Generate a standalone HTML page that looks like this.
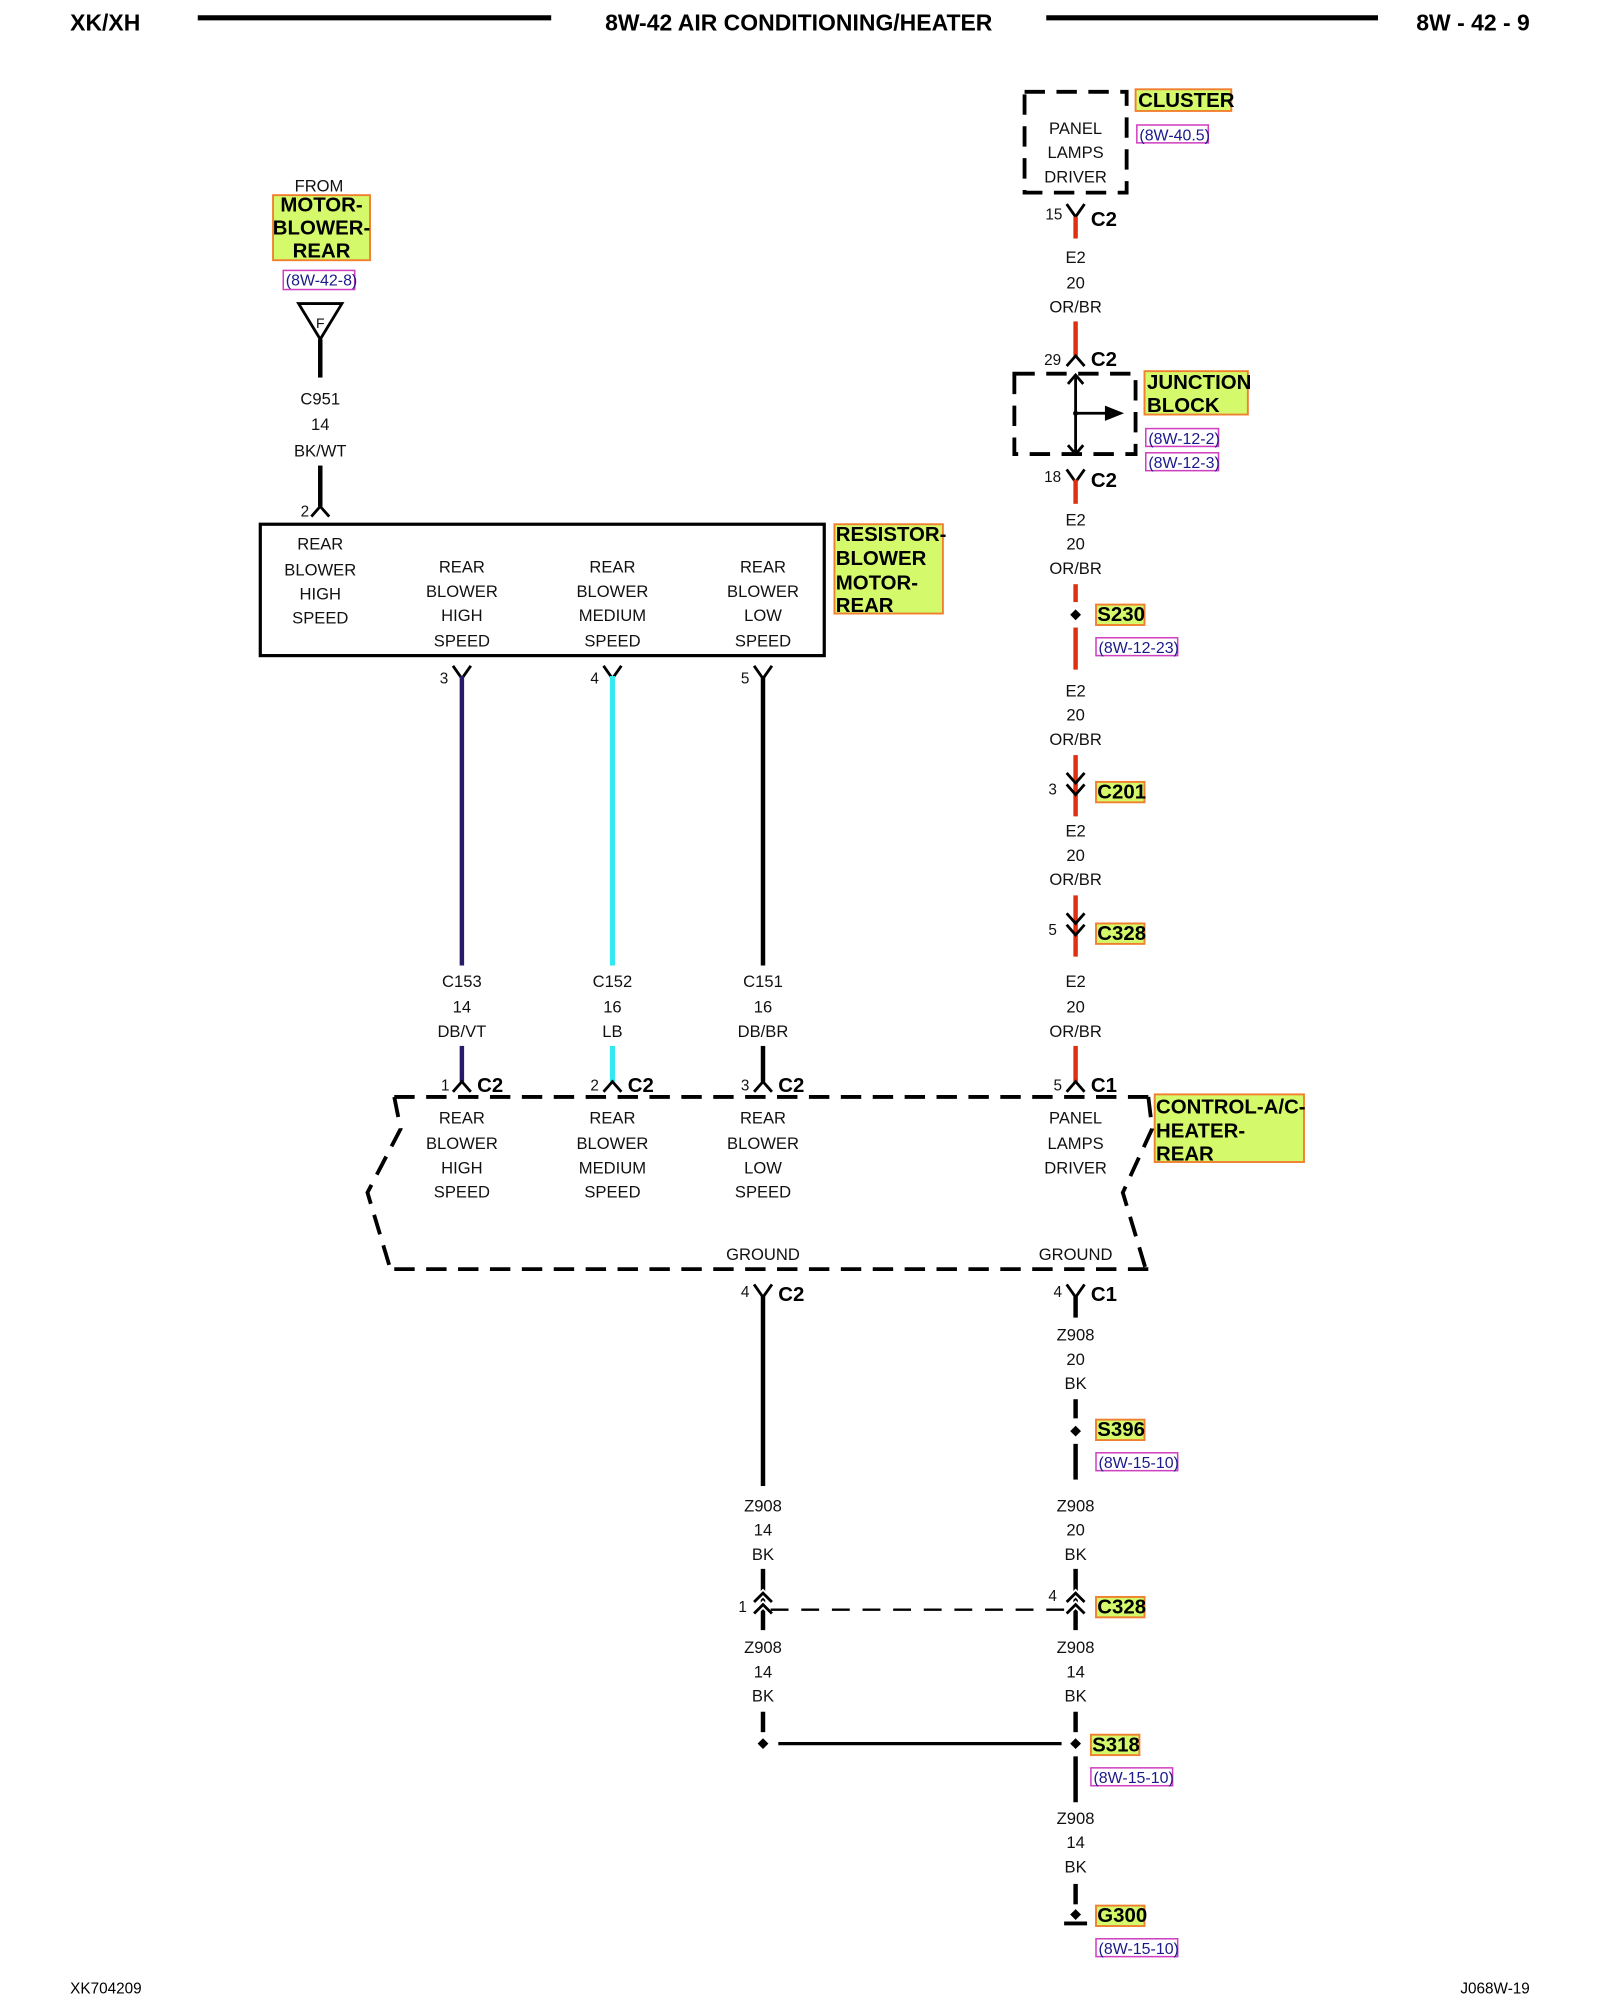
<!DOCTYPE html>
<html><head><meta charset="utf-8"><style>
html,body{margin:0;padding:0;background:#fff;}
svg{display:block;}
text{font-family:"Liberation Sans",sans-serif;}
.t{font-size:13px;text-anchor:middle;fill:#111;}
.b{font-size:16px;font-weight:bold;fill:#000;}
.h{font-size:18px;font-weight:bold;fill:#000;}
.r{font-size:12.5px;fill:#1a1a8a;}
.lab{fill:#d4f96a;stroke:#f08030;stroke-width:1.5;}
.ref{fill:#fff;stroke:#d040c0;stroke-width:1.2;}
.w{stroke:#000;stroke-width:3.5;fill:none;}
.rw{stroke:#e03010;stroke-width:3.5;fill:none;}
.c{stroke:#000;stroke-width:2.2;fill:none;}
.d{stroke:#000;stroke-width:3;fill:none;stroke-dasharray:16 9;}
</style></head><body>
<svg width="1600" height="2000" viewBox="0 0 1254 1568" preserveAspectRatio="none" xmlns="http://www.w3.org/2000/svg">
<!-- header -->
<text x="55" y="24" class="h">XK/XH</text>
<line x1="155" y1="14" x2="432" y2="14" stroke="#000" stroke-width="4"/>
<text x="626" y="24" class="h" text-anchor="middle">8W-42 AIR CONDITIONING/HEATER</text>
<line x1="820" y1="14" x2="1080" y2="14" stroke="#000" stroke-width="4"/>
<text x="1199" y="24" class="h" text-anchor="end">8W - 42 - 9</text>

<!-- cluster -->
<rect x="803" y="72" width="80" height="79" class="d"/>
<text x="843" y="105" class="t">PANEL</text>
<text x="843" y="124" class="t">LAMPS</text>
<text x="843" y="143" class="t">DRIVER</text>
<rect x="890" y="70" width="75" height="17" class="lab"/>
<text x="892" y="84" class="b">CLUSTER</text>
<rect x="891" y="98" width="56" height="14" class="ref"/>
<text x="893" y="110" class="r">(8W-40.5)</text>

<!-- right wire top -->
<path d="M836 160 L843 170 L850 160 M843 170 V187" class="c"/>
<line x1="843" y1="170" x2="843" y2="187" class="rw"/>
<text x="826" y="172" class="t" style="font-size:12px">15</text>
<text x="855" y="177" class="b">C2</text>
<text x="843" y="206" class="t">E2</text><text x="843" y="226" class="t">20</text><text x="843" y="245" class="t">OR/BR</text>
<line x1="843" y1="252" x2="843" y2="280" class="rw"/>
<path d="M836 287 L843 279 L850 287" class="c"/>
<text x="825" y="286" class="t" style="font-size:12px">29</text>
<text x="855" y="287" class="b">C2</text>
<!-- junction block -->
<rect x="795" y="293" width="95" height="63" class="d"/>
<path d="M843 295 V355 M837 301 L843 294 L849 301 M837 349 L843 356 L849 349 M843 324 H868" class="c"/>
<polygon points="866,318 881,324 866,330" fill="#000"/>
<circle cx="843" cy="324" r="2" fill="#000"/>
<rect x="897" y="291" width="81" height="34" class="lab"/>
<text x="899" y="305" class="b">JUNCTION</text>
<text x="899" y="323" class="b">BLOCK</text>
<rect x="898" y="336" width="57" height="14" class="ref"/>
<text x="900" y="348" class="r">(8W-12-2)</text>
<rect x="898" y="355" width="57" height="14" class="ref"/>
<text x="900" y="367" class="r">(8W-12-3)</text>

<path d="M836 368 L843 378 L850 368" class="c"/>
<line x1="843" y1="376" x2="843" y2="395" class="rw"/>
<text x="825" y="378" class="t" style="font-size:12px">18</text>
<text x="855" y="382" class="b">C2</text>
<text x="843" y="412" class="t">E2</text><text x="843" y="431" class="t">20</text><text x="843" y="450" class="t">OR/BR</text>
<line x1="843" y1="458" x2="843" y2="472" class="rw"/>
<rect x="840" y="479" width="6" height="6" transform="rotate(45 843 482)" fill="#000"/>
<line x1="843" y1="492" x2="843" y2="525" class="rw"/>
<rect x="859" y="474" width="38" height="16" class="lab"/>
<text x="860" y="487" class="b">S230</text>
<rect x="859" y="500" width="64" height="14" class="ref"/>
<text x="861" y="512" class="r">(8W-12-23)</text>
<text x="843" y="546" class="t">E2</text><text x="843" y="565" class="t">20</text><text x="843" y="584" class="t">OR/BR</text>
<line x1="843" y1="592" x2="843" y2="640" class="rw"/>
<path d="M836 606 L843 614 L850 606 M836 615 L843 623 L850 615" class="c"/>
<text x="825" y="623" class="t" style="font-size:12px">3</text>
<rect x="859" y="613" width="38" height="16" class="lab"/>
<text x="860" y="626" class="b">C201</text>
<text x="843" y="656" class="t">E2</text><text x="843" y="675" class="t">20</text><text x="843" y="694" class="t">OR/BR</text>
<line x1="843" y1="702" x2="843" y2="750" class="rw"/>
<path d="M836 716 L843 724 L850 716 M836 725 L843 733 L850 725" class="c"/>
<text x="825" y="733" class="t" style="font-size:12px">5</text>
<rect x="859" y="724" width="38" height="16" class="lab"/>
<text x="860" y="737" class="b">C328</text>
<text x="843" y="774" class="t">E2</text><text x="843" y="794" class="t">20</text><text x="843" y="813" class="t">OR/BR</text>
<line x1="843" y1="820" x2="843" y2="849" class="rw"/>
<path d="M836 856 L843 848 L850 856" class="c"/>
<text x="829" y="855" class="t" style="font-size:12px">5</text>
<text x="855" y="856" class="b">C1</text>

<!-- left top -->
<text x="250" y="150" class="t">FROM</text>
<rect x="214" y="153" width="76" height="51" class="lab"/>
<text x="252" y="166" class="b" text-anchor="middle">MOTOR-</text>
<text x="252" y="184" class="b" text-anchor="middle">BLOWER-</text>
<text x="252" y="202" class="b" text-anchor="middle">REAR</text>
<rect x="222" y="212" width="56" height="15" class="ref"/>
<text x="224" y="224" class="r">(8W-42-8)</text>
<path d="M234 238 H268 L251 266 Z" class="c"/>
<text x="251" y="257" class="t" style="font-size:11px">F</text>
<line x1="251" y1="266" x2="251" y2="296" class="w"/>
<text x="251" y="317" class="t">C951</text><text x="251" y="337" class="t">14</text><text x="251" y="358" class="t">BK/WT</text>
<line x1="251" y1="365" x2="251" y2="397" class="w"/>
<path d="M244 405 L251 397 L258 405" class="c"/>
<text x="239" y="405" class="t" style="font-size:12px">2</text>

<!-- resistor box -->
<rect x="204" y="411" width="442" height="103" fill="none" stroke="#000" stroke-width="2.5"/>
<text x="251" y="431" class="t">REAR</text><text x="251" y="451" class="t">BLOWER</text><text x="251" y="470" class="t">HIGH</text><text x="251" y="489" class="t">SPEED</text>
<text x="362" y="449" class="t">REAR</text><text x="362" y="468" class="t">BLOWER</text><text x="362" y="487" class="t">HIGH</text><text x="362" y="507" class="t">SPEED</text>
<text x="480" y="449" class="t">REAR</text><text x="480" y="468" class="t">BLOWER</text><text x="480" y="487" class="t">MEDIUM</text><text x="480" y="507" class="t">SPEED</text>
<text x="598" y="449" class="t">REAR</text><text x="598" y="468" class="t">BLOWER</text><text x="598" y="487" class="t">LOW</text><text x="598" y="507" class="t">SPEED</text>
<rect x="654" y="411" width="85" height="70" class="lab"/>
<text x="655" y="424" class="b">RESISTOR-</text>
<text x="655" y="443" class="b">BLOWER</text>
<text x="655" y="462" class="b">MOTOR-</text>
<text x="655" y="480" class="b">REAR</text>

<!-- three wires -->
<path d="M355 522 L362 532 L369 522" class="c"/>
<path d="M473 522 L480 532 L487 522" class="c"/>
<path d="M591 522 L598 532 L605 522" class="c"/>
<text x="348" y="536" class="t" style="font-size:12px">3</text>
<text x="466" y="536" class="t" style="font-size:12px">4</text>
<text x="584" y="536" class="t" style="font-size:12px">5</text>
<line x1="362" y1="530" x2="362" y2="757" stroke="#2a1a6a" stroke-width="3.5"/>
<line x1="480" y1="530" x2="480" y2="757" stroke="#33e8f2" stroke-width="4"/>
<line x1="598" y1="530" x2="598" y2="757" class="w"/>
<text x="362" y="774" class="t">C153</text><text x="362" y="794" class="t">14</text><text x="362" y="813" class="t">DB/VT</text>
<text x="480" y="774" class="t">C152</text><text x="480" y="794" class="t">16</text><text x="480" y="813" class="t">LB</text>
<text x="598" y="774" class="t">C151</text><text x="598" y="794" class="t">16</text><text x="598" y="813" class="t">DB/BR</text>
<line x1="362" y1="820" x2="362" y2="848" stroke="#2a1a6a" stroke-width="3.5"/>
<line x1="480" y1="820" x2="480" y2="848" stroke="#33e8f2" stroke-width="4"/>
<line x1="598" y1="820" x2="598" y2="848" class="w"/>
<path d="M355 856 L362 848 L369 856 M473 856 L480 848 L487 856 M591 856 L598 848 L605 856" class="c"/>
<text x="349" y="855" class="t" style="font-size:12px">1</text>
<text x="466" y="855" class="t" style="font-size:12px">2</text>
<text x="584" y="855" class="t" style="font-size:12px">3</text>
<text x="374" y="856" class="b">C2</text>
<text x="492" y="856" class="b">C2</text>
<text x="610" y="856" class="b">C2</text>

<!-- control box -->
<path d="M309 860 H900 M309 995 H900 M309 860 L314 885 L288 935 L306 995 M900 860 L903 885 L880 935 L898 995" class="d"/>
<text x="362" y="881" class="t">REAR</text><text x="362" y="901" class="t">BLOWER</text><text x="362" y="920" class="t">HIGH</text><text x="362" y="939" class="t">SPEED</text>
<text x="480" y="881" class="t">REAR</text><text x="480" y="901" class="t">BLOWER</text><text x="480" y="920" class="t">MEDIUM</text><text x="480" y="939" class="t">SPEED</text>
<text x="598" y="881" class="t">REAR</text><text x="598" y="901" class="t">BLOWER</text><text x="598" y="920" class="t">LOW</text><text x="598" y="939" class="t">SPEED</text>
<text x="843" y="881" class="t">PANEL</text><text x="843" y="901" class="t">LAMPS</text><text x="843" y="920" class="t">DRIVER</text>
<text x="598" y="988" class="t">GROUND</text>
<text x="843" y="988" class="t">GROUND</text>
<rect x="905" y="858" width="117" height="53" class="lab"/>
<text x="906" y="873" class="b">CONTROL-A/C-</text>
<text x="906" y="892" class="b">HEATER-</text>
<text x="906" y="910" class="b">REAR</text>

<!-- ground section -->
<path d="M591 1007 L598 1017 L605 1007 M836 1007 L843 1017 L850 1007" class="c"/>
<text x="584" y="1017" class="t" style="font-size:12px">4</text>
<text x="829" y="1017" class="t" style="font-size:12px">4</text>
<text x="610" y="1020" class="b">C2</text>
<text x="855" y="1020" class="b">C1</text>
<line x1="598" y1="1015" x2="598" y2="1165" class="w"/>
<line x1="843" y1="1015" x2="843" y2="1033" class="w"/>
<text x="843" y="1051" class="t">Z908</text><text x="843" y="1070" class="t">20</text><text x="843" y="1089" class="t">BK</text>
<line x1="843" y1="1097" x2="843" y2="1112" class="w"/>
<rect x="840" y="1119" width="6" height="6" transform="rotate(45 843 1122)" fill="#000"/>
<line x1="843" y1="1132" x2="843" y2="1160" class="w"/>
<rect x="859" y="1113" width="38" height="16" class="lab"/>
<text x="860" y="1126" class="b">S396</text>
<rect x="859" y="1139" width="64" height="14" class="ref"/>
<text x="861" y="1151" class="r">(8W-15-10)</text>
<text x="598" y="1185" class="t">Z908</text><text x="598" y="1204" class="t">14</text><text x="598" y="1223" class="t">BK</text>
<text x="843" y="1185" class="t">Z908</text><text x="843" y="1204" class="t">20</text><text x="843" y="1223" class="t">BK</text>
<line x1="598" y1="1230" x2="598" y2="1278" class="w"/>
<line x1="843" y1="1230" x2="843" y2="1278" class="w"/>
<path d="M591 1256 L598 1249 L605 1256 M591 1265 L598 1258 L605 1265 M836 1256 L843 1249 L850 1256 M836 1265 L843 1258 L850 1265" stroke="#fff" stroke-width="5" fill="none"/>
<path d="M591 1256 L598 1249 L605 1256 M591 1265 L598 1258 L605 1265 M836 1256 L843 1249 L850 1256 M836 1265 L843 1258 L850 1265" class="c"/>
<line x1="604" y1="1262" x2="836" y2="1262" stroke="#000" stroke-width="1.8" stroke-dasharray="14 10"/>
<text x="582" y="1264" class="t" style="font-size:12px">1</text>
<text x="825" y="1255" class="t" style="font-size:12px">4</text>
<rect x="859" y="1252" width="38" height="16" class="lab"/>
<text x="860" y="1265" class="b">C328</text>
<text x="598" y="1296" class="t">Z908</text><text x="598" y="1315" class="t">14</text><text x="598" y="1334" class="t">BK</text>
<text x="843" y="1296" class="t">Z908</text><text x="843" y="1315" class="t">14</text><text x="843" y="1334" class="t">BK</text>
<line x1="598" y1="1342" x2="598" y2="1358" class="w"/>
<line x1="843" y1="1342" x2="843" y2="1358" class="w"/>
<rect x="595" y="1364" width="6" height="6" transform="rotate(45 598 1367)" fill="#000"/>
<rect x="840" y="1364" width="6" height="6" transform="rotate(45 843 1367)" fill="#000"/>
<line x1="610" y1="1367" x2="832" y2="1367" stroke="#000" stroke-width="2.5"/>
<line x1="843" y1="1377" x2="843" y2="1413" class="w"/>
<rect x="855" y="1360" width="38" height="16" class="lab"/>
<text x="856" y="1373" class="b">S318</text>
<rect x="855" y="1386" width="64" height="14" class="ref"/>
<text x="857" y="1398" class="r">(8W-15-10)</text>
<text x="843" y="1430" class="t">Z908</text><text x="843" y="1449" class="t">14</text><text x="843" y="1468" class="t">BK</text>
<line x1="843" y1="1477" x2="843" y2="1493" class="w"/>
<rect x="840" y="1498" width="6" height="6" transform="rotate(45 843 1501)" fill="#000"/>
<line x1="834" y1="1508" x2="852" y2="1508" stroke="#000" stroke-width="3"/>
<rect x="859" y="1494" width="38" height="16" class="lab"/>
<text x="860" y="1507" class="b">G300</text>
<rect x="859" y="1520" width="64" height="14" class="ref"/>
<text x="861" y="1532" class="r">(8W-15-10)</text>

<!-- footer -->
<text x="55" y="1563" style="font-size:12px">XK704209</text>
<text x="1199" y="1563" style="font-size:12px" text-anchor="end">J068W-19</text>
</svg>
</body></html>
